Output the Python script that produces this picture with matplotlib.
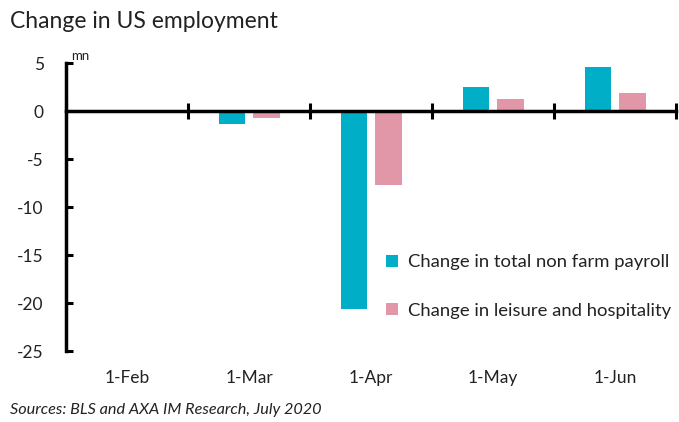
import numpy as np
import matplotlib
matplotlib.use("Agg")
import matplotlib.pyplot as plt

plt.rcParams['font.family'] = ['Lato', 'DejaVu Sans']

months = ['1-Feb', '1-Mar', '1-Apr', '1-May', '1-Jun']
payroll = [0.0, -1.35, -20.6, 2.5, 4.6]
leisure = [0.0, -0.75, -7.7, 1.25, 1.9]
labels = ['Change in total non farm payroll', 'Change in leisure and hospitality']
yticks = [5, 0, -5, -10, -15, -20, -25]

c_pay = '#00AEC7'
c_lei = '#E297A9'

fig = plt.figure(figsize=(6.79, 4.22), dpi=100)
ax = fig.add_axes([0.0972, 0.1682, 0.8984, 0.6825])

x = np.arange(len(months))
w = 0.22
ax.bar(x - 0.14, payroll, width=w, color=c_pay, label=labels[0])
ax.bar(x + 0.14, leisure, width=w, color=c_lei, label=labels[1])

ax.set_xlim(-0.5, len(months) - 0.5)
ax.set_ylim(-25, 5)

# y axis
ax.set_yticks(yticks)
ax.set_yticklabels([str(v) for v in yticks], fontsize=12.5, color='#222222')
ax.tick_params(axis='y', direction='in', length=5, width=2.2, pad=16)
ax.spines['left'].set_linewidth(2.5)
ax.spines['left'].set_bounds(-25, 5)

# x axis at zero with separator ticks
ax.spines['bottom'].set_position(('data', 0))
ax.spines['bottom'].set_linewidth(2.5)
ax.set_xticks(np.arange(len(months) + 1) - 0.5)
ax.set_xticklabels([])
ax.tick_params(axis='x', direction='inout', length=12, width=2.2)
ax.spines['top'].set_visible(False)
ax.spines['right'].set_visible(False)

for xi, m in zip(x, months):
    ax.text(xi, -0.092, m, transform=ax.get_xaxis_transform(), ha='center',
            va='center', fontsize=12.5, color='#222222')

ax.text(0.008, 1.005, 'mn', transform=ax.transAxes, ha='left', va='bottom',
        fontsize=9.5, color='#222222')

leg = ax.legend(loc='lower left', bbox_to_anchor=(0.497, 0.055), frameon=False,
                fontsize=13.3, handlelength=0.65, handleheight=0.65,
                handletextpad=0.55, labelspacing=1.75)
for t in leg.get_texts():
    t.set_color('#222222')

fig.text(0.015, 0.948, 'Change in US employment', fontsize=16.5, color='#222222',
         ha='left', va='center')
fig.text(0.015, 0.028, 'Sources: BLS and AXA IM Research, July 2020', fontsize=11.7,
         style='italic', color='#222222', ha='left', va='center')

fig.savefig('out.png', dpi=100)
